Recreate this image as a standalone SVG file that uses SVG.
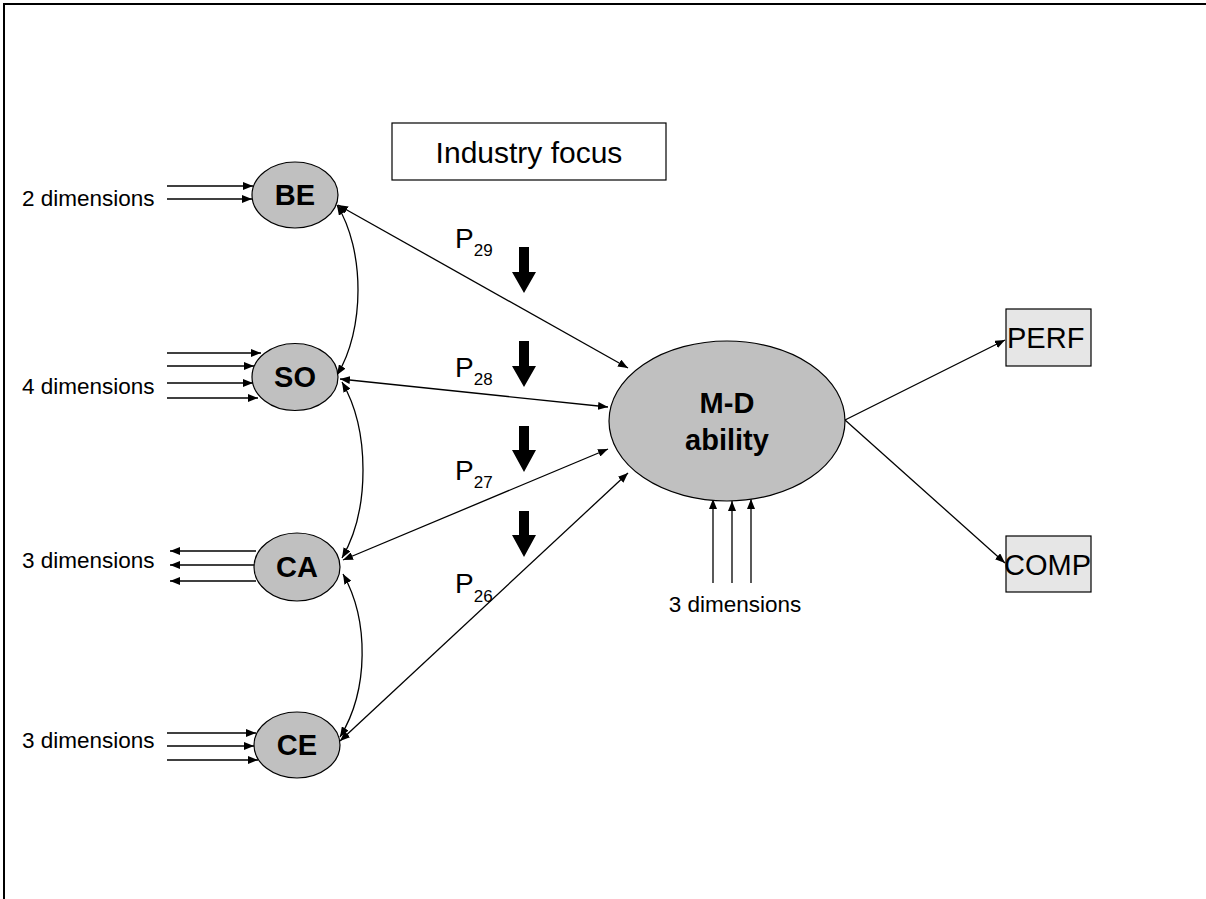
<svg xmlns="http://www.w3.org/2000/svg" width="1206" height="899" viewBox="0 0 1206 899">
<style>
.t{font-family:"Liberation Sans",Arial,sans-serif;fill:#000}
.b{font-weight:bold;font-size:29px;text-anchor:middle}
.d{font-size:22.5px}
.ln{stroke:#000;stroke-width:1.3;fill:none}
.ell{fill:#c0c0c0;stroke:#000;stroke-width:1.2}
.box{fill:#e6e6e6;stroke:#000;stroke-width:1.2}
</style>
<defs>
<marker id="a" markerUnits="userSpaceOnUse" markerWidth="11" markerHeight="8" refX="10" refY="4" orient="auto-start-reverse"><path d="M0,0 L10,4 L0,8 z" fill="#000"/></marker>
</defs>
<rect width="1206" height="899" fill="#fff"/>
<path d="M4,899 V4 H1206" fill="none" stroke="#000" stroke-width="2"/>
<g id="connectors">
<g class="ln" marker-end="url(#a)">
<line x1="167" y1="186" x2="253" y2="186"/>
<line x1="167" y1="199" x2="252" y2="199"/>
<line x1="167" y1="353" x2="261" y2="353"/>
<line x1="167" y1="366" x2="254" y2="366"/>
<line x1="167" y1="383" x2="253" y2="383"/>
<line x1="167" y1="398" x2="258" y2="398"/>
<line x1="256" y1="551" x2="170" y2="551"/>
<line x1="256" y1="565" x2="170" y2="565"/>
<line x1="256" y1="581" x2="170" y2="581"/>
<line x1="167" y1="733" x2="256" y2="733"/>
<line x1="167" y1="746" x2="254" y2="746"/>
<line x1="167" y1="760" x2="258" y2="760"/>
<line x1="713" y1="583" x2="713" y2="499"/>
<line x1="732" y1="583" x2="732" y2="501"/>
<line x1="751" y1="583" x2="751" y2="499"/>
<line x1="845" y1="420" x2="1005" y2="340"/>
<line x1="845" y1="420" x2="1005" y2="563"/>
</g>
<g class="ln" marker-start="url(#a)" marker-end="url(#a)">
<path d="M337,205 C365,250 365,330 337,375"/>
<path d="M342,382 C370,430 370,510 342,558"/>
<path d="M343,574 C369,620 369,690 340,737"/>
<line x1="338" y1="205" x2="628" y2="368"/>
<line x1="340" y1="379" x2="608" y2="407"/>
<line x1="343" y1="560" x2="608" y2="449"/>
<line x1="340" y1="741" x2="628" y2="473"/>
</g>
<g fill="#000">
<polygon points="519,247 529,247 529,272 536,272 524,293 512,272 519,272"/>
<polygon points="519,341 529,341 529,366 536,366 524,387 512,366 519,366"/>
<polygon points="519,426 529,426 529,450 536,450 524,472 512,450 519,450"/>
<polygon points="519,511 529,511 529,535 536,535 524,557 512,535 519,535"/>
</g>
</g>
<g id="industry">
<rect x="392" y="123" width="274" height="57" fill="#fff" stroke="#000" stroke-width="1.2"/>
<text class="t" x="529" y="163" font-size="30" text-anchor="middle">Industry focus</text>
</g>
<g id="BE">
<ellipse class="ell" cx="295" cy="195" rx="43" ry="33"/>
<text class="t b" x="295" y="205">BE</text>
<text class="t d" x="22" y="206">2 dimensions</text>
</g>
<g id="SO">
<ellipse class="ell" cx="295" cy="377" rx="43" ry="33.5"/>
<text class="t b" x="295" y="387">SO</text>
<text class="t d" x="22" y="394">4 dimensions</text>
</g>
<g id="CA">
<ellipse class="ell" cx="297" cy="567" rx="43" ry="34"/>
<text class="t b" x="297" y="577">CA</text>
<text class="t d" x="22" y="568">3 dimensions</text>
</g>
<g id="CE">
<ellipse class="ell" cx="297" cy="745" rx="43" ry="33"/>
<text class="t b" x="297" y="755">CE</text>
<text class="t d" x="22" y="748">3 dimensions</text>
</g>
<g id="MD">
<ellipse class="ell" cx="727" cy="421" rx="118" ry="80"/>
<text class="t b" x="727" y="413">M-D</text>
<text class="t b" x="727" y="450">ability</text>
<text class="t d" x="735" y="612" text-anchor="middle">3 dimensions</text>
</g>
<g id="PERF">
<rect class="box" x="1006" y="309" width="85" height="57"/>
<text class="t" x="1007" y="348" font-size="29">PERF</text>
</g>
<g id="COMP">
<rect class="box" x="1006" y="536" width="85" height="56"/>
<text class="t" x="1004" y="575" font-size="29">COMP</text>
</g>
<g id="labels" class="t">
<text x="455" y="248" font-size="28">P<tspan font-size="17" dy="8">29</tspan></text>
<text x="455" y="377" font-size="28">P<tspan font-size="17" dy="8">28</tspan></text>
<text x="455" y="480" font-size="28">P<tspan font-size="17" dy="8">27</tspan></text>
<text x="455" y="593" font-size="28">P<tspan font-size="17" dy="9">26</tspan></text>
</g>
</svg>
